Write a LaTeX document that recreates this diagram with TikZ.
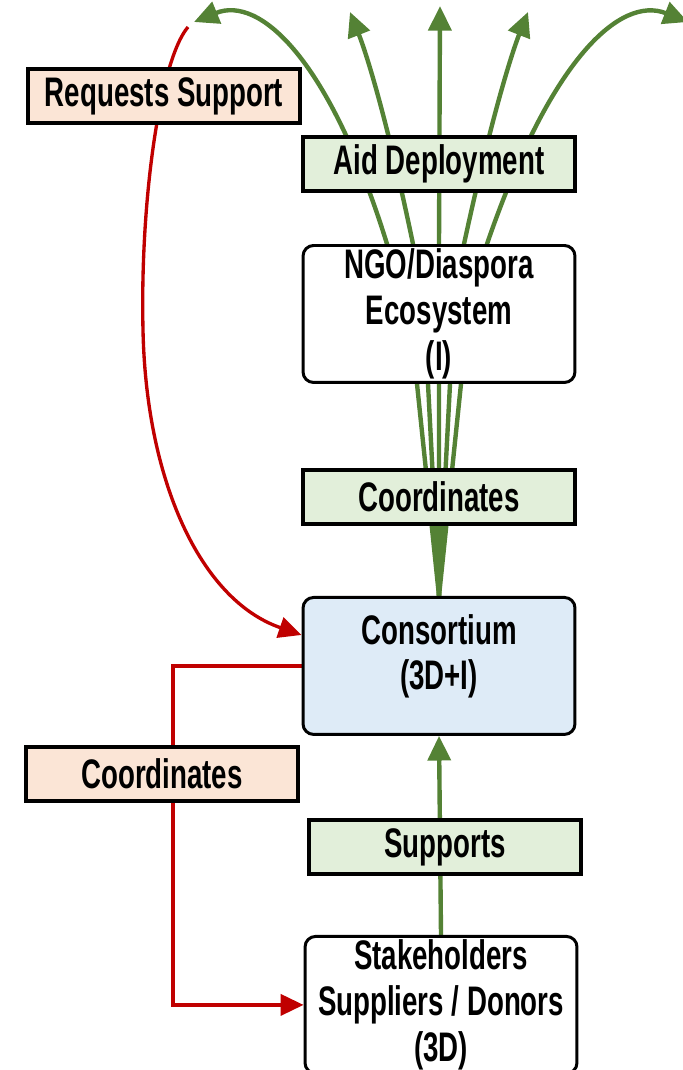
\documentclass[tikz,border=0pt]{standalone}
\usepackage{fontspec}
\setmainfont[FakeStretch=0.67]{Liberation Sans}
\usepackage{tikz}
\usetikzlibrary{positioning,arrows.meta,backgrounds}

\definecolor{peach}{HTML}{FBE5D6}
\definecolor{mint}{HTML}{E2EFDA}
\definecolor{skyblue}{HTML}{DEEBF7}
\definecolor{leaf}{HTML}{548235}
\definecolor{brick}{HTML}{C00000}

\begin{document}
\begin{tikzpicture}[x=0.02cm, y=-0.02cm, font=\fontsize{23.5}{26}\selectfont\bfseries,
    actor/.style={draw, line width=1.7pt, rounded corners=6pt, fill=white, minimum width=5.44cm, minimum height=2.74cm, align=center, inner sep=2pt},
    relation/.style={draw, line width=2.3pt, minimum width=5.44cm, minimum height=1.08cm, inner sep=2pt},
    flow/.style={leaf, line width=2.5pt, -{Triangle[length=14pt,width=13pt]}},
    ctrl/.style={brick, line width=1.9pt, -{Triangle[length=13pt,width=12pt]}}]
    \useasboundingbox (0,0) rectangle (682,1070);

    \node[relation, fill=mint] (deploy) at (439,164) {Aid Deployment};
    \node[actor, below=1.02cm of deploy] (ngo) {NGO/Diaspora\\Ecosystem\\(I)};
    \node[relation, fill=mint, below=1.68cm of ngo] (coordGreen) {Coordinates};
    \node[actor, fill=skyblue, below=1.40cm of coordGreen] (cons) {Consortium\\(3D+I)\\[-10pt]\mbox{}};
    \node[relation, fill=mint, below=1.64cm of cons, xshift=0.12cm] (supports) {Supports};
    \node[actor, below=1.18cm of supports, xshift=-0.08cm] (stake) {Stakeholders\\Suppliers / Donors\\(3D)};

    \node[relation, fill=peach] (request) at (164,96) {Requests Support};
    \node[relation, fill=peach] (coordRed) at (162,774) {Coordinates};

    \coordinate (rtop) at (188,27);
    \coordinate (tipA) at (194,22);
    \coordinate (tipB) at (350,12);
    \coordinate (tipC) at (440,6);
    \coordinate (tipD) at (528,12);
    \coordinate (tipE) at (688,22);

    \begin{scope}[on background layer]
        % aid flows out of the consortium
        \draw[flow] (cons.north) -- ([xshift=-0.44cm]ngo.south) -- ([xshift=-1.04cm]ngo.north)
            .. controls (330,60) and (260,-5) .. (tipA);
        \draw[flow] (cons.north) -- ([xshift=-0.22cm]ngo.south) -- ([xshift=-0.52cm]ngo.north)
            .. controls (385,110) and (365,50) .. (tipB);
        \draw[flow] (cons.north) -- (ngo.south) -- (ngo.north) -- (tipC);
        \draw[flow] (cons.north) -- ([xshift=0.22cm]ngo.south) -- ([xshift=0.5cm]ngo.north)
            .. controls (493,110) and (513,50) .. (tipD);
        \draw[flow] (cons.north) -- ([xshift=0.44cm]ngo.south) -- ([xshift=0.96cm]ngo.north)
            .. controls (550,60) and (620,-5) .. (tipE);

        \draw[flow] (stake.north) -- (cons.south);

        % requests and coordination
        \draw[ctrl] (rtop) .. controls (160,60) and (140,200) .. (143,330)
            .. controls (146,480) and (200,600) .. ([yshift=0.62cm]cons.west);
        \draw[ctrl] (cons.west) -| ([xshift=0.22cm]coordRed.center) |- (stake.west);
    \end{scope}
\end{tikzpicture}
\end{document}
